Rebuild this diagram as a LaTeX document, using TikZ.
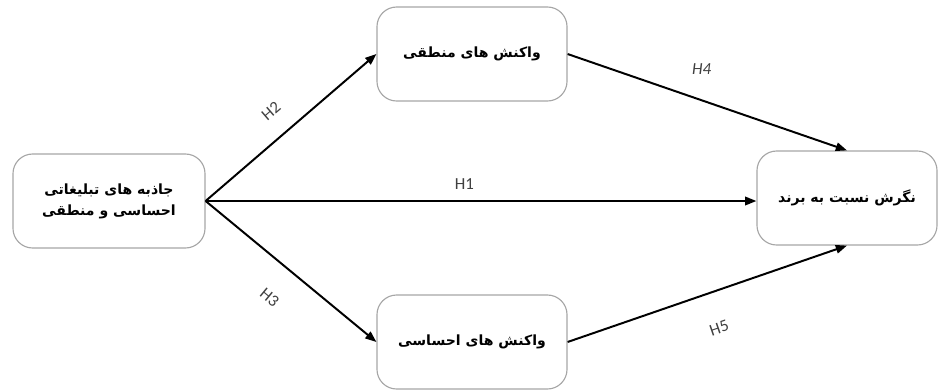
\documentclass[tikz,border=0pt]{standalone}
\usepackage{fontspec}
\setsansfont{Carlito}
\newfontfamily\farsifont[Script=Arabic]{DejaVu Sans}
\TeXXeTstate=1
\usetikzlibrary{arrows.meta}

\tikzset{
  varbox/.style={draw=black!35, line width=0.8pt, rounded corners=14,
    fill=white, align=center, font=\farsifont\bfseries,
    minimum width=4.75cm, minimum height=2.35cm},
  path/.style={line width=1.4pt, -{Triangle[length=8pt,width=6pt]}},
  hyp/.style={font=\sffamily\large, text=black!75}
}

\begin{document}
\begin{tikzpicture}[x=0.025cm, y=-0.025cm]
		\useasboundingbox (0,0) rectangle (939,390);

		% Variables
		\node[varbox, minimum width=4.8cm] (appeal) at (109,201)
			{\beginR جاذبه های تبلیغاتی\endR\\[3pt]\beginR احساسی و منطقی\endR};
		\node[varbox] (logic) at (472,54) {\beginR واکنش های منطقی\endR};
		\node[varbox] (emot) at (472,342) {\beginR واکنش های احساسی\endR};
		\node[varbox, minimum width=4.5cm] (attit) at (847,198)
			{\beginR نگرش نسبت به برند\endR};

		% Paths
		\draw[path] (appeal.east) -- (attit.west |- appeal.east)
			node[hyp, pos=0.47, above=4pt] {H1};
		\draw[path] (appeal.east) -- (logic.west)
			node[hyp, pos=0.48, sloped, above=10pt] {H2};
		\draw[path] (appeal.east) -- (emot.west)
			node[hyp, pos=0.5, sloped, below=16pt] {H3};
		\draw[path] (logic.east) -- (attit.north)
			node[hyp, midway, above=16pt, xshift=-4pt] {\itshape H4};
		\draw[path] (emot.east) -- (attit.south)
			node[hyp, midway, sloped, below=18pt] {H5};
	\end{tikzpicture}
\end{document}
